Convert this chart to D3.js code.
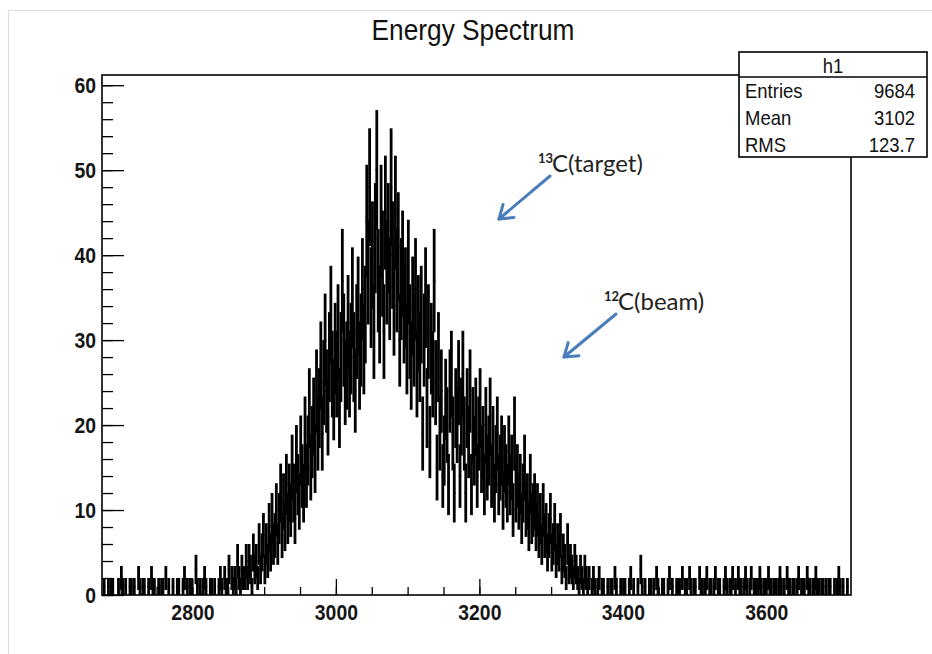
<!DOCTYPE html>
<html>
<head>
<meta charset="utf-8">
<script src="https://cdn.jsdelivr.net/npm/d3@7"></script>
<style>
  body { margin: 0; background: #fff; }
  svg { display: block; }
</style>
</head>
<body>
<div id="chart"></div>
<script>
// histogram h1, 2-unit bins (counts per bin of 1 unit)
var binStart = 2676, binWidth = 2;
var counts = [
  // 2676 - 2776
  1,0,0,1,0,1,1,0,0,0,1,0,2,1,0,1,0,0,1,1,0,1,0,0,2,1,0,1,1,0,0,1,0,2,1,1,0,0,1,0,1,1,0,2,0,1,0,0,1,0,
  // 2776 - 2876
  0,1,1,0,0,1,2,0,1,0,1,1,0,0,3,1,0,1,0,1,2,1,0,0,1,1,0,1,0,0,1,2,1,0,2,1,1,3,0,2,1,2,1,4,2,1,3,2,2,4,
  // 2876 - 2976
  2,4,3,1,5,3,4,2,6,3,5,7,3,6,4,8,5,9,6,7,10,6,9,12,7,11,8,13,9,12,10,15,12,9,16,13,11,17,14,12,19,14,17,22,15,18,21,16,24,19,
  // 2976 - 3076
  22,27,19,25,30,24,21,28,33,26,23,29,26,31,22,28,37,30,25,27,32,26,29,35,28,24,31,34,27,30,36,29,33,44,38,48,35,40,31,42,50,37,33,44,39,31,45,38,42,36,
  // 3076 - 3176
  48,40,34,45,37,41,30,36,39,33,35,29,38,31,27,34,30,36,26,32,28,33,19,30,35,22,31,18,29,26,37,25,15,28,19,24,14,17,23,20,13,24,26,19,12,22,20,25,14,21,
  // 3176 - 3276
  26,19,12,22,18,24,13,20,17,21,14,19,22,16,18,13,20,15,17,21,14,18,12,16,19,13,15,17,11,16,14,12,17,13,15,10,19,12,14,11,13,9,12,15,10,11,8,13,9,10,
  // 3276 - 3376
  11,8,10,7,9,6,10,7,8,5,7,9,5,6,8,4,6,5,7,3,5,4,2,6,3,4,3,2,4,3,2,1,3,2,1,3,2,1,2,0,1,2,1,0,1,2,0,1,1,0,
  // 3376 - 3476
  0,1,0,1,1,0,2,1,0,0,1,0,1,1,0,0,1,2,0,1,0,0,1,0,3,1,0,1,0,0,1,1,0,1,0,2,1,0,0,1,1,0,0,1,2,0,1,0,0,1,
  // 3476 - 3576
  1,1,0,2,0,1,1,0,2,1,0,1,1,0,0,2,1,1,0,1,2,0,1,1,0,1,2,0,1,1,0,0,1,2,1,0,1,1,2,0,1,0,2,1,1,0,1,2,1,0,
  // 3576 - 3676
  1,2,0,1,1,0,1,2,1,0,1,1,0,2,1,1,0,1,1,0,1,2,1,0,1,0,2,1,1,0,1,1,0,1,2,0,1,1,1,0,2,1,1,0,1,1,2,1,1,0,
  // 3676 - 3716
  1,1,0,1,0,1,1,0,0,1,0,1,2,1,0,1,0,0,1,0
];

var xTicks = [2800, 3000, 3200, 3400, 3600];
var yTicks = [0, 10, 20, 30, 40, 50, 60];
var statNames = ["Entries", "Mean", "RMS"];
var statValues = ["9684", "3102", "123.7"];
var notes = [
  {sup: "13", label: "C(target)", from: [550, 176], to: [499, 219]},
  {sup: "12", label: "C(beam)", from: [616, 314], to: [564, 357]}
];

var W = 932, H = 654;
var svg = d3.select("#chart").append("svg").attr("width", W).attr("height", H);

var x = d3.scaleLinear().domain([2674, 3718]).range([102, 851]);
var y = d3.scaleLinear().domain([0, 61.2]).range([595, 75]);

// squeeze text a bit, ROOT's helvetica looks narrow
function condense(sel, k) {
  sel.each(function() {
    var w = this.getComputedTextLength();
    d3.select(this).attr("textLength", w * k).attr("lengthAdjust", "spacingAndGlyphs");
  });
}

// page border
svg.append("path").attr("d", "M8.5,654 V10.5 H932")
  .attr("fill", "none").attr("stroke", "#dedede").attr("stroke-width", 1.2);

// title
svg.append("text").attr("x", 473).attr("y", 40)
  .attr("text-anchor", "middle")
  .style("font-family", "Liberation Sans, Arial, sans-serif")
  .style("font-size", "30px").attr("fill", "#111")
  .text("Energy Spectrum").call(condense, 0.875);

// data
var bins = counts.map(function(c, i) {
  return {lo: binStart + i * binWidth, hi: binStart + (i + 1) * binWidth, n: c};
}).filter(function(d) { return d.n > 0; });

svg.append("clipPath").attr("id", "frameClip").append("rect")
  .attr("x", 102).attr("y", 75).attr("width", 749).attr("height", 520);

var g = svg.append("g").attr("clip-path", "url(#frameClip)");

g.selectAll("line.err").data(bins).enter().append("line")
  .attr("class", "err")
  .attr("x1", function(d) { return x((d.lo + d.hi) / 2); })
  .attr("x2", function(d) { return x((d.lo + d.hi) / 2); })
  .attr("y1", function(d) { return y(d.n - Math.sqrt(d.n)); })
  .attr("y2", function(d) { return y(d.n + Math.sqrt(d.n)); })
  .attr("stroke", "#000").attr("stroke-width", 2.8);

g.selectAll("line.bin").data(bins).enter().append("line")
  .attr("class", "bin")
  .attr("x1", function(d) { return x(d.lo) - 0.5; })
  .attr("x2", function(d) { return x(d.hi) + 0.5; })
  .attr("y1", function(d) { return y(d.n); })
  .attr("y2", function(d) { return y(d.n); })
  .attr("stroke", "#000").attr("stroke-width", 2);

// axes, ticks point inwards like ROOT
var axisFont = "Liberation Sans, Arial, sans-serif";

var yMinor = svg.append("g").attr("transform", "translate(102,0)")
  .call(d3.axisLeft(y).tickValues(d3.range(0, 61, 2)).tickSize(-11).tickFormat(""));
var yAxis = svg.append("g").attr("transform", "translate(102,0)")
  .call(d3.axisLeft(y).tickValues(yTicks).tickSize(-22).tickPadding(6));

var xMinor = svg.append("g").attr("transform", "translate(0,595)")
  .call(d3.axisBottom(x).tickValues(d3.range(2700, 3701, 50)).tickSize(-8).tickFormat(""));
var xAxis = svg.append("g").attr("transform", "translate(0,595)")
  .call(d3.axisBottom(x).tickValues(xTicks).tickSize(-16).tickPadding(9).tickFormat(d3.format("d")));

[yMinor, yAxis, xMinor, xAxis].forEach(function(a) {
  a.select(".domain").remove();
  a.selectAll(".tick line").attr("stroke", "#000").attr("stroke-width", 1.3);
});
[yAxis, xAxis].forEach(function(a) {
  a.selectAll("text")
    .style("font-family", axisFont).style("font-size", "22px")
    .style("font-weight", "bold").attr("fill", "#151515")
    .call(condense, 0.88);
});

// frame
svg.append("rect").attr("x", 102).attr("y", 75).attr("width", 749).attr("height", 520)
  .attr("fill", "none").attr("stroke", "#000").attr("stroke-width", 1.6);

// stats box
var box = svg.append("g");
box.append("rect").attr("x", 739).attr("y", 52).attr("width", 188).attr("height", 105)
  .attr("fill", "#fff").attr("stroke", "#000").attr("stroke-width", 1.6);
box.append("line").attr("x1", 739).attr("x2", 927).attr("y1", 77).attr("y2", 77)
  .attr("stroke", "#000").attr("stroke-width", 1.4);
box.append("text").attr("x", 833).attr("y", 73).attr("text-anchor", "middle")
  .style("font-family", axisFont).style("font-size", "21px").attr("fill", "#111")
  .text("h1").call(condense, 0.88);
statNames.forEach(function(s, i) {
  var yy = 98 + i * 27;
  box.append("text").attr("x", 745).attr("y", yy)
    .style("font-family", axisFont).style("font-size", "21px").attr("fill", "#111")
    .text(s).call(condense, 0.88);
  box.append("text").attr("x", 915).attr("y", yy).attr("text-anchor", "end")
    .style("font-family", axisFont).style("font-size", "21px").attr("fill", "#111")
    .text(statValues[i]).call(condense, 0.88);
});

// annotations with blue arrows
var blue = "#4a7ebb";
notes.forEach(function(n) {
  var tx = n.from[0] + 2, ty = n.from[1] - 4;
  svg.append("text").attr("x", tx - 14).attr("y", ty - 9)
    .style("font-family", "Lato, sans-serif").style("font-size", "13px")
    .style("font-weight", "bold").attr("fill", "#222").text(n.sup);
  svg.append("text").attr("x", tx).attr("y", ty)
    .style("font-family", "Lato, sans-serif").style("font-size", "24px")
    .attr("fill", "#222").text(n.label);

  var a = Math.atan2(n.to[1] - n.from[1], n.to[0] - n.from[0]);
  var len = 15, spread = 0.6;
  var p1 = [n.to[0] - len * Math.cos(a - spread), n.to[1] - len * Math.sin(a - spread)];
  var p2 = [n.to[0] - len * Math.cos(a + spread), n.to[1] - len * Math.sin(a + spread)];
  svg.append("line")
    .attr("x1", n.from[0]).attr("y1", n.from[1]).attr("x2", n.to[0]).attr("y2", n.to[1])
    .attr("stroke", blue).attr("stroke-width", 3).attr("stroke-linecap", "round");
  svg.append("path")
    .attr("d", "M" + p1 + "L" + n.to + "L" + p2)
    .attr("fill", "none").attr("stroke", blue).attr("stroke-width", 3)
    .attr("stroke-linecap", "round").attr("stroke-linejoin", "round");
});
</script>
</body>
</html>
